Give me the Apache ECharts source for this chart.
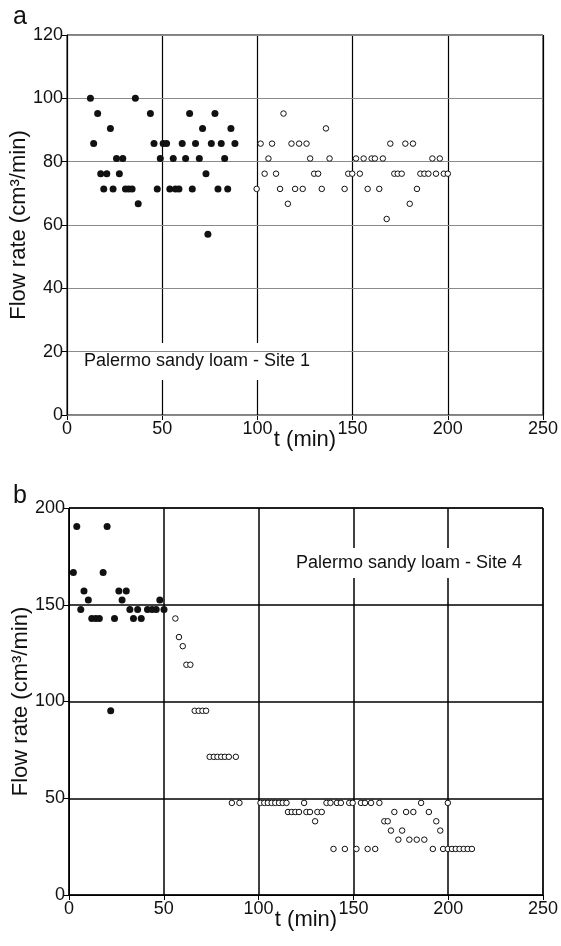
<!DOCTYPE html>
<html>
<head>
<meta charset="utf-8">
<script src="https://cdn.jsdelivr.net/npm/echarts@6/dist/echarts.min.js"></script>
<style>
  html, body { margin: 0; padding: 0; background: #fff; }
  #chart { width: 561px; height: 946px; }
</style>
</head>
<body>
<div id="chart"></div>
<script>
// Panel a - Site 1: filled points (t, flow rate)
const siteOneFilled = [
    [12.3, 100], [14.0, 85.7], [16.1, 95.2], [17.7, 76.2], [19.3, 71.4], [20.9, 76.2],
    [22.8, 90.5], [24.2, 71.4], [26.0, 81.0], [27.5, 76.2], [29.3, 81.0], [30.7, 71.4],
    [32.4, 71.4], [34.2, 71.4], [35.9, 100], [37.4, 66.7], [43.8, 95.2], [45.7, 85.7],
    [47.4, 71.4], [49.0, 81.0], [50.5, 85.7], [52.3, 85.7], [54.0, 71.4], [55.8, 81.0],
    [57.0, 71.4], [58.8, 71.4], [60.5, 85.7], [62.3, 81.0], [64.4, 95.2], [65.8, 71.4],
    [67.5, 85.7], [69.5, 81.0], [71.2, 90.5], [73.0, 76.2], [74.0, 57.1], [75.8, 85.7],
    [77.7, 95.2], [79.3, 71.4], [81.0, 85.7], [82.8, 81.0], [84.4, 71.4], [86.1, 90.5],
    [88.2, 85.7]
];
// Panel a - Site 1: open points
const siteOneOpen = [
    [99.6, 71.4], [101.7, 85.7], [103.8, 76.2], [105.8, 81.0], [107.7, 85.7], [109.8, 76.2],
    [111.9, 71.4], [113.7, 95.2], [116.0, 66.7], [117.9, 85.7], [119.8, 71.4], [121.9, 85.7],
    [123.8, 71.4], [125.8, 85.7], [127.7, 81.0], [129.8, 76.2], [131.9, 76.2], [133.8, 71.4],
    [136.0, 90.5], [137.9, 81.0], [145.8, 71.4], [147.7, 76.2], [149.8, 76.2], [151.8, 81.0],
    [153.8, 76.2], [155.8, 81.0], [157.9, 71.4], [160.0, 81.0], [161.7, 81.0], [164.0, 71.4],
    [165.9, 81.0], [167.9, 61.9], [169.8, 85.7], [171.9, 76.2], [173.7, 76.2], [175.8, 76.2],
    [177.7, 85.7], [180.0, 66.7], [181.7, 85.7], [183.8, 71.4], [185.6, 76.2], [187.7, 76.2],
    [189.8, 76.2], [191.9, 81.0], [193.8, 76.2], [195.8, 81.0], [197.9, 76.2], [200.0, 76.2]
];
// Panel b - Site 4: filled points
const siteFourFilled = [
    [2.3, 166.7], [4.1, 190.5], [6.2, 147.6], [7.9, 157.1], [10.2, 152.4], [12.0, 142.9],
    [14.1, 142.9], [16.0, 142.9], [18.0, 166.7], [20.1, 190.5], [22.0, 95.2], [24.0, 142.9],
    [26.3, 157.1], [28.0, 152.4], [30.2, 157.1], [32.1, 147.6], [34.0, 142.9], [36.2, 147.6],
    [38.1, 142.9], [41.4, 147.6], [43.8, 147.6], [46.0, 147.6], [47.9, 152.4], [50.1, 147.6]
];
// Panel b - Site 4: open points
const siteFourOpen = [
    [56.1, 142.9], [58.0, 133.3], [60.0, 128.6], [61.9, 119.0], [64.0, 119.0],
    [66.3, 95.2], [68.4, 95.2], [70.4, 95.2], [72.3, 95.2],
    [74.2, 71.4], [76.4, 71.4], [78.3, 71.4], [80.3, 71.4], [82.2, 71.4], [84.3, 71.4], [88.0, 71.4],
    [85.9, 47.6], [89.9, 47.6],
    [101.0, 47.6], [103.0, 47.6], [104.9, 47.6], [106.9, 47.6], [108.8, 47.6], [110.8, 47.6],
    [112.7, 47.6], [114.7, 47.6], [124.0, 47.6], [135.8, 47.6], [137.9, 47.6], [141.3, 47.6],
    [143.4, 47.6], [147.8, 47.6], [149.6, 47.6], [154.0, 47.6], [156.1, 47.6], [159.3, 47.6],
    [163.7, 47.6], [185.7, 47.6], [199.8, 47.6],
    [115.5, 42.9], [117.5, 42.9], [119.4, 42.9], [121.3, 42.9], [125.2, 42.9], [127.1, 42.9],
    [131.0, 42.9], [133.3, 42.9], [171.6, 42.9], [177.8, 42.9], [181.6, 42.9], [189.8, 42.9],
    [129.8, 38.1], [166.3, 38.1], [168.1, 38.1], [193.7, 38.1],
    [169.8, 33.3], [175.7, 33.3], [195.8, 33.3],
    [173.7, 28.6], [179.5, 28.6], [183.4, 28.6], [187.4, 28.6],
    [139.5, 23.8], [145.5, 23.8], [151.6, 23.8], [157.5, 23.8], [161.5, 23.8], [191.9, 23.8],
    [197.3, 23.8], [199.8, 23.8], [202.0, 23.8], [204.0, 23.8], [206.0, 23.8], [208.2, 23.8],
    [210.3, 23.8], [212.5, 23.8]
];

const tTicks = [0, 50, 100, 150, 200, 250];
const flowTicksA = [0, 20, 40, 60, 80, 100, 120];
const flowTicksB = [0, 50, 100, 150, 200];
const flowName = 'Flow rate (cm\u00B3/min)';
const timeName = 't (min)';
const siteOneLabel = 'Palermo sandy loam - Site 1';
const siteFourLabel = 'Palermo sandy loam - Site 4';

const font = '"Liberation Sans", Arial, sans-serif';
const chart = echarts.init(document.getElementById('chart'), null, { renderer: 'canvas' });

// vertical grid lines sit under the text boxes, horizontal ones over them
function xAxisFor(gridIndex, splitColor, splitWidth) {
    return {
        gridIndex: gridIndex,
        type: 'value',
        z: 0,
        min: tTicks[0],
        max: tTicks[tTicks.length - 1],
        interval: tTicks[1] - tTicks[0],
        name: timeName,
        nameLocation: 'middle',
        nameGap: 14,
        nameMoveOverlap: false,
        nameTextStyle: { fontFamily: font, fontSize: 22, color: '#111' },
        axisLine: { show: true, lineStyle: { color: '#000', width: 1 } },
        axisTick: { show: true, length: 5, lineStyle: { color: '#000' } },
        axisLabel: { fontFamily: font, fontSize: 18, color: '#111', margin: 5 },
        splitLine: { show: true, lineStyle: { color: splitColor, width: splitWidth } }
    };
}

function yAxisFor(gridIndex, ticks, splitColor, splitWidth) {
    return {
        gridIndex: gridIndex,
        type: 'value',
        z: 2,
        min: ticks[0],
        max: ticks[ticks.length - 1],
        interval: ticks[1] - ticks[0],
        name: flowName,
        nameLocation: 'middle',
        nameGap: 37,
        nameMoveOverlap: false,
        nameTextStyle: { fontFamily: font, fontSize: 22, color: '#111' },
        axisLine: { show: true, lineStyle: { color: '#000', width: 1 } },
        axisTick: { show: true, length: 5, lineStyle: { color: '#000' } },
        axisLabel: { fontFamily: font, fontSize: 18, color: '#111', margin: 4 },
        splitLine: { show: true, lineStyle: { color: splitColor, width: splitWidth } }
    };
}

function filledSeries(axisIndex, data) {
    return {
        type: 'scatter',
        xAxisIndex: axisIndex,
        yAxisIndex: axisIndex,
        data: data,
        symbol: 'circle',
        symbolSize: 7,
        itemStyle: { color: '#111', opacity: 1 },
        z: 3
    };
}

function openSeries(axisIndex, data) {
    return {
        type: 'scatter',
        xAxisIndex: axisIndex,
        yAxisIndex: axisIndex,
        data: data,
        symbol: 'circle',
        symbolSize: 5.5,
        itemStyle: { color: '#fff', borderColor: '#111', borderWidth: 1, opacity: 1 },
        z: 3
    };
}

function boxedText(text, x, y, padding) {
    return {
        type: 'text',
        x: x,
        y: y,
        z: 1,
        style: {
            text: text,
            font: '18px ' + font,
            fill: '#111',
            backgroundColor: '#fff',
            padding: padding,
            verticalAlign: 'middle'
        }
    };
}

chart.setOption({
    animation: false,
    backgroundColor: '#fff',
    grid: [
        {
            left: 67, top: 35, width: 476, height: 380,
            outerBoundsMode: 'none', containLabel: false,
            show: true, borderColor: '#000', borderWidth: 1
        },
        {
            left: 69, top: 508, width: 474, height: 387,
            outerBoundsMode: 'none', containLabel: false,
            show: true, borderColor: '#000', borderWidth: 1
        }
    ],
    xAxis: [xAxisFor(0, '#000', 1.2), xAxisFor(1, '#000', 1.5)],
    yAxis: [yAxisFor(0, flowTicksA, '#8a8a8a', 1.2), yAxisFor(1, flowTicksB, '#000', 1.5)],
    series: [
        filledSeries(0, siteOneFilled),
        openSeries(0, siteOneOpen),
        filledSeries(1, siteFourFilled),
        openSeries(1, siteFourOpen)
    ],
    graphic: [
        { type: 'text', x: 13, y: 5, style: { text: 'a', font: '25px ' + font, fill: '#111' } },
        { type: 'text', x: 13, y: 484, style: { text: 'b', font: '25px ' + font, fill: '#111' } },
        boxedText(siteOneLabel, 80, 361.5, [18, 4, 1, 4]),
        boxedText(siteFourLabel, 292, 563, [6, 4, 6, 4])
    ]
});
</script>
</body>
</html>
